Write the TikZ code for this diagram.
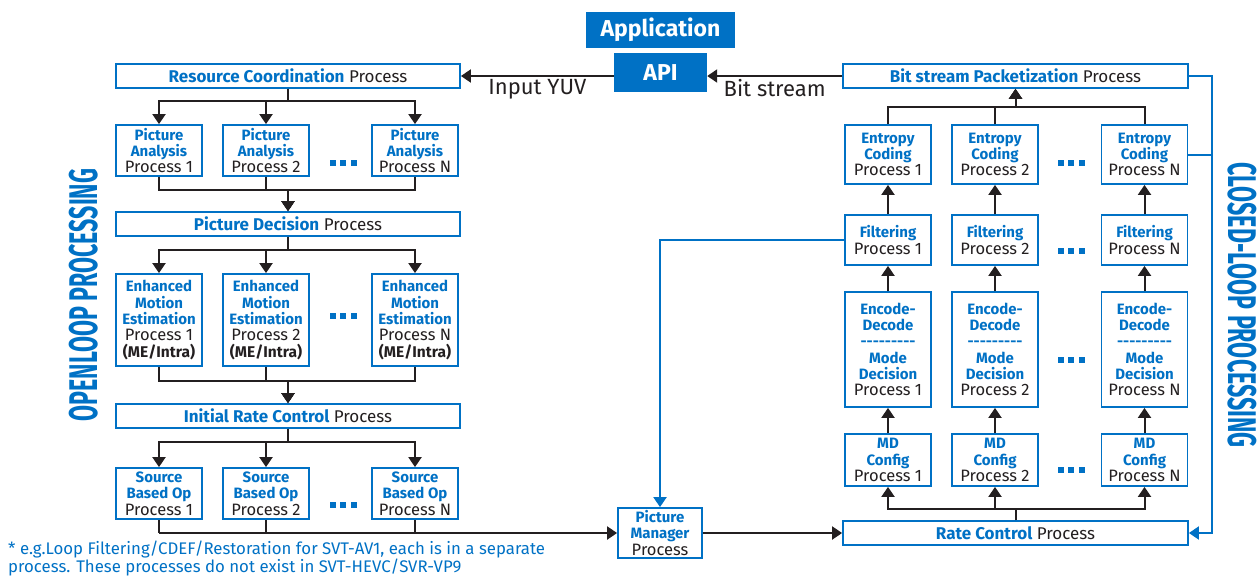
\documentclass[tikz,border=0pt]{standalone}
\usepackage{fontspec}
\usepackage{graphicx}
\setmainfont{Fira Sans}
\usetikzlibrary{arrows.meta}
\definecolor{iblue}{HTML}{0071C5}
\definecolor{itext}{HTML}{231F20}
\newcommand{\bt}[1]{\textcolor{iblue}{\bfseries #1}}
\newcommand{\bs}[1]{{\fontsize{15}{16.3}\selectfont\bt{#1}}}
\newcommand{\hy}{\hbox{-}}
\newcommand{\dashrow}{\hy\hy\hy\hy\hy\hy\hy\hy\hy}

\begin{document}
\begin{tikzpicture}[x=1pt, y=-1pt,
    box/.style={draw=iblue, line width=1.8pt, fill=white, text=itext, align=center,
        inner sep=0pt, font=\fontsize{16.5}{16.3}\selectfont, minimum width=86pt},
    wide/.style={box, minimum width=344pt, minimum height=24pt, font=\fontsize{17}{20}\selectfont},
    solidbox/.style={fill=iblue, text=white, inner sep=0pt, font=\fontsize{23}{26}\selectfont\bfseries},
    arr/.style={line width=2pt, draw=itext, -{Triangle[width=13pt,length=10pt]}},
    barr/.style={line width=2pt, draw=iblue, -{Triangle[width=13pt,length=10pt]}},
    bline/.style={line width=2pt, draw=iblue},
    side/.style={text=iblue, inner sep=0pt, font=\fontsize{40}{40}\selectfont\bfseries},
    lbl/.style={text=itext, font=\fontsize{22}{24}\selectfont}]

    \useasboundingbox (0,0) rectangle (1257,576);

    % Application and API
    \node[solidbox, minimum width=149pt, minimum height=36pt] (app) at (660.5,30) {Application};
    \node[solidbox, minimum width=93pt, minimum height=39pt] (api) at (660.5,72.5) {API};

    % Open loop boxes
    \node[wide] (rcoord) at (288,76) {\bt{Resource Coordination} Process};
    \node[box, minimum height=51pt] (pa1) at (159,150.5) {\bs{Picture}\\\bs{Analysis}\\Process 1};
    \node[box, minimum height=51pt] (pa2) at (266,150.5) {\bs{Picture}\\\bs{Analysis}\\Process 2};
    \node[box, minimum height=51pt] (paN) at (415,150.5) {\bs{Picture}\\\bs{Analysis}\\Process N};
    \node[wide] (pdec) at (288,224) {\bt{Picture Decision} Process};
    \node[box, minimum height=92pt] (me1) at (159,320) {\bs{Enhanced}\\\bs{Motion}\\\bs{Estimation}\\Process 1\\{\fontsize{15.5}{16.3}\selectfont\bfseries(ME/Intra)}};
    \node[box, minimum height=92pt] (me2) at (266,320) {\bs{Enhanced}\\\bs{Motion}\\\bs{Estimation}\\Process 2\\{\fontsize{15.5}{16.3}\selectfont\bfseries(ME/Intra)}};
    \node[box, minimum height=92pt] (meN) at (415,320) {\bs{Enhanced}\\\bs{Motion}\\\bs{Estimation}\\Process N\\{\fontsize{15.5}{16.3}\selectfont\bfseries(ME/Intra)}};
    \node[wide] (irc) at (288,416) {\bt{Initial Rate Control} Process};
    \node[box, minimum height=51pt] (sb1) at (159,493.5) {\bs{Source}\\\bs{Based Op}\\Process 1};
    \node[box, minimum height=51pt] (sb2) at (266,493.5) {\bs{Source}\\\bs{Based Op}\\Process 2};
    \node[box, minimum height=51pt] (sbN) at (415,493.5) {\bs{Source}\\\bs{Based Op}\\Process N};

    % Picture manager
    \node[box, minimum width=84pt, minimum height=50pt] (pm) at (660,533) {\bs{Picture}\\\bs{Manager}\\Process};

    % Closed loop boxes
    \node[wide, minimum width=345pt] (bpack) at (1015.5,76) {\bt{Bit stream Packetization} Process};
    \node[box, minimum height=59pt] (ec1) at (888,154.5) {\bs{Entropy}\\\bs{Coding}\\Process 1};
    \node[box, minimum height=59pt] (ec2) at (995,154.5) {\bs{Entropy}\\\bs{Coding}\\Process 2};
    \node[box, minimum height=59pt] (ecN) at (1144.5,154.5) {\bs{Entropy}\\\bs{Coding}\\Process N};
    \node[box, minimum height=50pt] (fl1) at (888,240) {\bs{Filtering}\\Process 1};
    \node[box, minimum height=50pt] (fl2) at (995,240) {\bs{Filtering}\\Process 2};
    \node[box, minimum height=50pt] (flN) at (1144.5,240) {\bs{Filtering}\\Process N};
    \node[box, minimum height=115pt] (ed1) at (888,349.5) {\bs{Encode-}\\\bs{Decode}\\\bs{\dashrow}\\\bs{Mode}\\\bs{Decision}\\Process 1};
    \node[box, minimum height=115pt] (ed2) at (995,349.5) {\bs{Encode-}\\\bs{Decode}\\\bs{\dashrow}\\\bs{Mode}\\\bs{Decision}\\Process 2};
    \node[box, minimum height=115pt] (edN) at (1144.5,349.5) {\bs{Encode-}\\\bs{Decode}\\\bs{\dashrow}\\\bs{Mode}\\\bs{Decision}\\Process N};
    \node[box, minimum height=52pt] (md1) at (888,460) {\bs{MD}\\\bs{Config}\\Process 1};
    \node[box, minimum height=52pt] (md2) at (995,460) {\bs{MD}\\\bs{Config}\\Process 2};
    \node[box, minimum height=52pt] (mdN) at (1144.5,460) {\bs{MD}\\\bs{Config}\\Process N};
    \node[wide, minimum width=345pt] (rctrl) at (1015.5,533) {\bt{Rate Control} Process};

    % Dots between columns
    \foreach \x/\y in {343/163, 343/316, 343/505, 1071/163, 1071/251, 1071/360, 1071/470}
        \foreach \d in {-10.5,0,10.5}
            \fill[iblue] (\x+\d-3,\y-3) rectangle ++(6,6);

    % Side titles
    \node[side, rotate=90] (openl) at (84,295) {\scalebox{0.58}[1]{OPENLOOP PROCESSING}};
    \node[side, rotate=-90] (closedl) at (1242,305) {\scalebox{0.58}[1]{CLOSED-LOOP PROCESSING}};

    % API links
    \draw[arr] (api.west |- rcoord.east) -- (rcoord.east) node[midway, below, lbl, yshift=1pt] {Input YUV};
    \draw[arr] (bpack.west) -- (bpack.west -| api.east) node[midway, below, lbl, yshift=1pt] {Bit stream};

    % Open loop links
    \foreach \c in {pa1,pa2,paN} {
        \draw[arr] (rcoord.south) -- ++(0,12) -| (\c.north);
        \draw[arr] (\c.south) -- ++(0,13) -| (pdec.north);
    }
    \foreach \c in {me1,me2,meN} {
        \draw[arr] (pdec.south) -- ++(0,13) -| (\c.north);
        \draw[arr] (\c.south) -- ++(0,14) -| (irc.north);
    }
    \foreach \c in {sb1,sb2,sbN} {
        \draw[arr] (irc.south) -- ++(0,13) -| (\c.north);
        \draw[line width=2pt, draw=itext] (\c.south) -- (\c.south |- pm.west);
    }
    \draw[arr] (sb1.south |- pm.west) -- (pm.west);
    \draw[arr] (pm.east) -- (rctrl.west);

    % Closed loop links
    \foreach \i in {1,2,N} {
        \draw[arr] (rctrl.north) -- ++(0,-11) -| (md\i.south);
        \draw[arr] (md\i.north) -- (ed\i.south);
        \draw[arr] (ed\i.north) -- (fl\i.south);
        \draw[arr] (fl\i.north) -- (ec\i.south);
        \draw[arr] (ec\i.north) -- ++(0,-17) -| (bpack.south);
    }

    % Feedback links
    \coordinate (rbus) at (1212,76);
    \draw[barr] (fl1.west) -| (pm.north);
    \draw[barr] (bpack.east) -- (rbus) |- (rctrl.east);
    \draw[bline] (ecN.east) -- (ecN.east -| rbus);

    % Footnote
    \node[anchor=north west, text=iblue, align=left, inner sep=0pt,
        font=\fontsize{16.8}{15.5}\selectfont] (note) at (8,541)
        {* e.g.Loop Filtering/CDEF/Restoration for SVT-AV1, each is in a separate\\process. These processes do not exist in SVT-HEVC/SVR-VP9};
\end{tikzpicture}
\end{document}
